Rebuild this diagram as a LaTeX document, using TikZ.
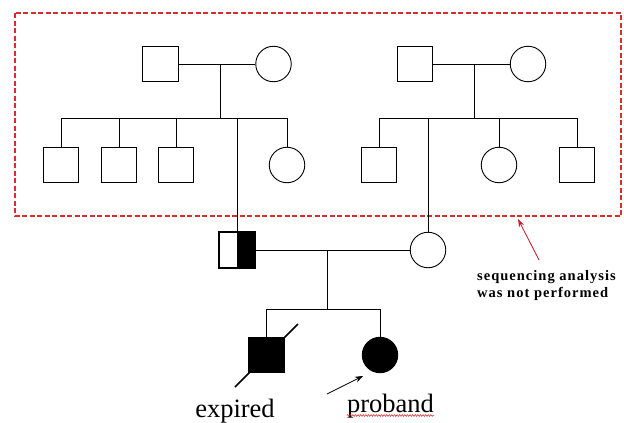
\documentclass[tikz,border=0pt]{standalone}
\usepackage{fontspec}
\setmainfont{Liberation Serif}
\usetikzlibrary{arrows.meta,calc,decorations.pathmorphing}
\definecolor{boxred}{RGB}{215,45,45}
\definecolor{arrred}{RGB}{200,30,45}
\definecolor{spellred}{RGB}{210,40,40}
\begin{document}
\begin{tikzpicture}[x=1pt,y=-1pt,
  ln/.style={draw=black,line width=0.9pt},
  male/.style={rectangle,draw=black,line width=0.9pt,minimum size=35.5pt,inner sep=0pt,fill=white},
  female/.style={circle,draw=black,line width=0.9pt,minimum size=35.5pt,inner sep=0pt,fill=white},
  affected/.style={fill=black},
  lbl/.style={inner sep=0pt,anchor=base,font=\fontsize{26.5}{30}\selectfont},
  note/.style={inner sep=0pt,anchor=base west,font=\fontsize{14.5}{17}\selectfont\bfseries\addfontfeature{LetterSpace=7}},
  box/.style={draw=boxred,line width=1.2pt,dash pattern=on 5pt off 2.5pt},
  redarr/.style={draw=arrred,fill=arrred,line width=0.8pt,-{Stealth[length=8pt,width=5.5pt]}},
  blkarr/.style={draw=black,line width=0.8pt,-{Stealth[length=8pt,width=6pt]}},
  squiggle/.style={draw=spellred,line width=0.5pt,decorate,decoration={snake,amplitude=0.9pt,segment length=2.6pt}}]
\useasboundingbox (0,0) rectangle (624,423);
\fill[white] (0,0) rectangle (624,423);

% dashed box
\coordinate (bx1) at (15,13);
\coordinate (bx2) at (621,216);
\draw[box] (bx1) rectangle (bx2);

% left grandparents
\node[male]   (gf1) at (160.5,64) {};
\node[female] (gm1) at (273.5,64) {};
\coordinate (m1) at (220,64);
\coordinate (s1) at (220,118);
\draw[ln] (gf1) -- (gm1);
\draw[ln] (m1) -- (s1);
\node[male]   (c11) at (61,165) {};
\node[male]   (c12) at (119,165) {};
\node[male]   (c13) at (176,165) {};
\node[female] (c14) at (287,165) {};

% right grandparents
\node[male]   (gf2) at (415,64) {};
\node[female] (gm2) at (528,64) {};
\coordinate (m2) at (474,64);
\coordinate (s2) at (474,118);
\draw[ln] (gf2) -- (gm2);
\draw[ln] (m2) -- (s2);
\node[male]   (c21) at (379,165) {};
\node[female] (c22) at (499,165) {};
\node[male]   (c23) at (577,165) {};

% parents
\node[male]   (fa) at (237,250) {};
\fill[black] (fa.north) rectangle (fa.south east);
\draw[line width=0.9pt] (fa.north west) rectangle (fa.south east);
\node[female] (mo) at (428,250) {};

% sibships of grandparents
\draw[ln] (c11.north |- s1) -- (c14.north |- s1);
\foreach \c in {c11,c12,c13,c14} \draw[ln] (\c.north |- s1) -- (\c.north);
\draw[ln] (fa.north |- s1) -- (fa.north);
\draw[ln] (c21.north |- s2) -- (c23.north |- s2);
\foreach \c in {c21,c22,c23} \draw[ln] (\c.north |- s2) -- (\c.north);
\draw[ln] (mo.north |- s2) -- (mo.north);

% parents marriage and children
\draw[ln] (fa.east) -- (mo.west);
\coordinate (m3) at (327,250);
\coordinate (s3) at (327,309);
\draw[ln] (m3) -- (s3);
\node[male,affected]   (ex) at (266.5,355) {};
\node[female,affected] (pb) at (380,355) {};
\draw[ln] (ex.north |- s3) -- (pb.north |- s3);
\draw[ln] (ex.north |- s3) -- (ex.north);
\draw[ln] (pb.north |- s3) -- (pb.north);
\draw[line width=1.6pt] ([shift={(-31.5,32)}]ex.center) -- ([shift={(31.5,-31)}]ex.center);

% labels
\node[lbl] (lex) at (235,417) {expired};
\node[lbl] (lpb) at (390.5,412) {proband};
\draw[squiggle] ([yshift=-3.5pt]lpb.base west) -- ([yshift=-3.5pt]lpb.base east);
\coordinate (pt) at (327,394);
\draw[blkarr] (pt) -- ([shift={(-17,21)}]pb.center);

% note
\node[note] (n1) at (477,280) {sequencing analysis};
\node[note] (n2) at (477,297) {was not performed};
\coordinate (rt) at (539,260);
\draw[redarr] (rt) -- (518,219);
\end{tikzpicture}
\end{document}
